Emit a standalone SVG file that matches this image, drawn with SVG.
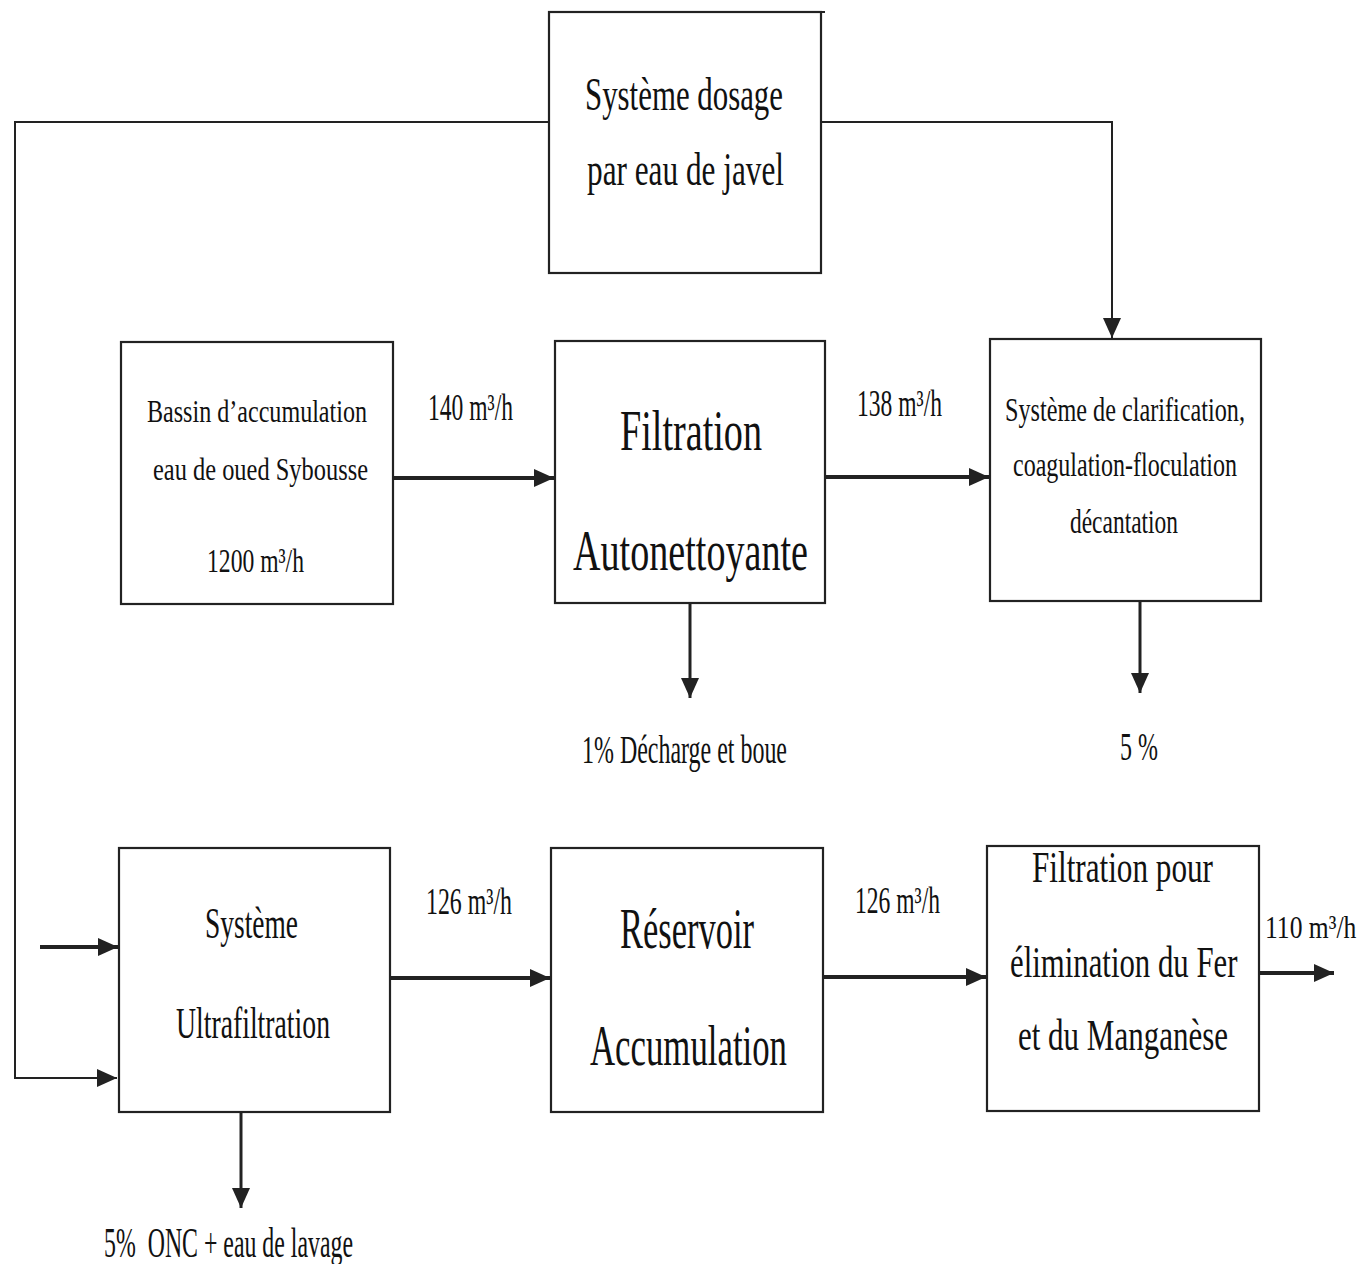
<svg xmlns="http://www.w3.org/2000/svg" width="1372" height="1264" viewBox="0 0 1372 1264">
<style>
.box{fill:#fff;stroke:#222;stroke-width:2.2}
.t{font-family:"Liberation Serif","Times New Roman",serif;fill:#111}
.thick{fill:none;stroke:#222;stroke-width:4}
.mid{fill:none;stroke:#222;stroke-width:3}
.thin{fill:none;stroke:#222;stroke-width:2}
</style>
<defs>
<marker id="ah" markerUnits="userSpaceOnUse" markerWidth="22" markerHeight="20" refX="20" refY="10" orient="auto">
<path d="M0,1 L20,10 L0,19 Z" fill="#222"/>
</marker>
</defs>
<rect width="1372" height="1264" fill="#fff"/>

<g id="connectors">
<path class="thin" d="M549,122 H15 V1078 H117" marker-end="url(#ah)"/>
<path class="thin" d="M821,122 H1112 V338" marker-end="url(#ah)"/>
<path class="thick" d="M393,478 H554" marker-end="url(#ah)"/>
<path class="thick" d="M825,477 H989" marker-end="url(#ah)"/>
<path class="mid" d="M690,603 V698" marker-end="url(#ah)"/>
<path class="mid" d="M1140,601 V693" marker-end="url(#ah)"/>
<path class="thick" d="M40,947 H118" marker-end="url(#ah)"/>
<path class="thick" d="M390,978 H550" marker-end="url(#ah)"/>
<path class="thick" d="M823,977 H986" marker-end="url(#ah)"/>
<path class="thick" d="M1259,973 H1334" marker-end="url(#ah)"/>
<path class="mid" d="M241,1112 V1208" marker-end="url(#ah)"/>
<text class="t" x="428" y="420" font-size="38" textLength="85" lengthAdjust="spacingAndGlyphs">140 m³/h</text>
<text class="t" x="857" y="416" font-size="38" textLength="85" lengthAdjust="spacingAndGlyphs">138 m³/h</text>
<text class="t" x="426" y="914" font-size="38" textLength="86" lengthAdjust="spacingAndGlyphs">126 m³/h</text>
<text class="t" x="855" y="913" font-size="38" textLength="85" lengthAdjust="spacingAndGlyphs">126 m³/h</text>
<text class="t" transform="translate(1265,938) scale(0.8,1)" font-size="32">110 m³/h</text>
<text class="t" x="582" y="763" font-size="40" textLength="205" lengthAdjust="spacingAndGlyphs">1% Décharge et boue</text>
<text class="t" x="1120" y="760" font-size="40" textLength="38" lengthAdjust="spacingAndGlyphs">5 %</text>
<text class="t" x="104" y="1257" font-size="42" textLength="249" lengthAdjust="spacingAndGlyphs">5%&#160; ONC + eau de lavage</text>
</g>

<g id="dosage">
<rect class="box" x="549" y="12" width="272" height="261"/>
<line class="thin" x1="548" y1="12" x2="825" y2="12"/>
<text class="t" x="585" y="110" font-size="46" textLength="198" lengthAdjust="spacingAndGlyphs">Système dosage</text>
<text class="t" x="587" y="185" font-size="46" textLength="197" lengthAdjust="spacingAndGlyphs">par eau de javel</text>
</g>

<g id="bassin">
<rect class="box" x="121" y="342" width="272" height="262"/>
<text class="t" x="147" y="422" font-size="32" textLength="220" lengthAdjust="spacingAndGlyphs">Bassin d’accumulation</text>
<text class="t" x="153" y="480" font-size="32" textLength="215" lengthAdjust="spacingAndGlyphs">eau de oued Sybousse</text>
<text class="t" x="207" y="572" font-size="34" textLength="97" lengthAdjust="spacingAndGlyphs">1200 m³/h</text>
</g>

<g id="filtration-auto">
<rect class="box" x="555" y="341" width="270" height="262"/>
<text class="t" x="620" y="450" font-size="58" textLength="142" lengthAdjust="spacingAndGlyphs">Filtration</text>
<text class="t" x="573" y="570" font-size="58" textLength="235" lengthAdjust="spacingAndGlyphs">Autonettoyante</text>
</g>

<g id="clarification">
<rect class="box" x="990" y="339" width="271" height="262"/>
<text class="t" x="1005" y="421" font-size="33" textLength="240" lengthAdjust="spacingAndGlyphs">Système de clarification,</text>
<text class="t" x="1013" y="476" font-size="33" textLength="224" lengthAdjust="spacingAndGlyphs">coagulation-floculation</text>
<text class="t" x="1070" y="533" font-size="33" textLength="108" lengthAdjust="spacingAndGlyphs">décantation</text>
</g>

<g id="ultrafiltration">
<rect class="box" x="119" y="848" width="271" height="264"/>
<text class="t" x="205" y="938" font-size="44" textLength="93" lengthAdjust="spacingAndGlyphs">Système</text>
<text class="t" x="176" y="1038" font-size="44" textLength="154" lengthAdjust="spacingAndGlyphs">Ultrafiltration</text>
</g>

<g id="reservoir">
<rect class="box" x="551" y="848" width="272" height="264"/>
<text class="t" x="620" y="948" font-size="56" textLength="134" lengthAdjust="spacingAndGlyphs">Réservoir</text>
<text class="t" x="590" y="1065" font-size="56" textLength="197" lengthAdjust="spacingAndGlyphs">Accumulation</text>
</g>

<g id="fer">
<rect class="box" x="987" y="846" width="272" height="265"/>
<text class="t" x="1032" y="882" font-size="44" textLength="181" lengthAdjust="spacingAndGlyphs">Filtration pour</text>
<text class="t" transform="translate(1010,977) scale(0.7,1)" font-size="44">élimination du Fer</text>
<text class="t" x="1018" y="1050" font-size="44" textLength="210" lengthAdjust="spacingAndGlyphs">et du Manganèse</text>
</g>
</svg>
